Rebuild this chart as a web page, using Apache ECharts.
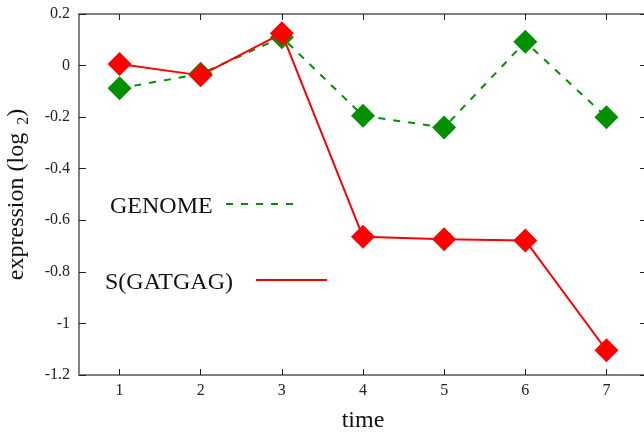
<!DOCTYPE html>
<html>
<head>
<meta charset="utf-8">
<script src="https://cdn.jsdelivr.net/npm/echarts@6/dist/echarts.min.js"></script>
<style>html,body{margin:0;padding:0;background:#fff}#c{width:644px;height:432px}</style>
</head>
<body>
<div id="c"></div>
<script>
const categories = ['1', '2', '3', '4', '5', '6', '7'];
const genome = [-0.088, -0.032, 0.11, -0.195, -0.24, 0.092, -0.2];
const gatgag = [0.006, -0.038, 0.125, -0.664, -0.674, -0.678, -1.104];
const seriesNames = ['GENOME', 'S(GATGAG)'];
const yMin = -1.2, yMax = 0.2, yStep = 0.2;

const FONT = '"Liberation Serif", "Times New Roman", serif';
const GREEN = '#009000', RED = '#ff0000';
const axisGray = '#808080', tickColor = '#222';

const chart = echarts.init(document.getElementById('c'), null, {renderer: 'canvas'});
const xBase = {
  type: 'category', data: categories, boundaryGap: true,
  axisLine: {show: true, onZero: false, lineStyle: {color: axisGray, width: 2}},
  axisTick: {show: true, inside: true, alignWithLabel: true, length: 6, lineStyle: {color: tickColor, width: 1}},
  splitLine: {show: false}
};
const yBase = {
  type: 'value', min: yMin, max: yMax, interval: yStep,
  axisLine: {show: true, onZero: false, lineStyle: {color: axisGray, width: 2}},
  axisTick: {show: true, inside: true, length: 7, lineStyle: {color: tickColor, width: 1}},
  splitLine: {show: false}
};
chart.setOption({
  animation: false,
  backgroundColor: '#fff',
  grid: {left: 79, right: -3, top: 14, bottom: 57, containLabel: false, outerBoundsMode: 'none'},
  xAxis: [
    Object.assign({}, xBase, {
      position: 'bottom',
      axisLabel: {fontFamily: FONT, fontSize: 16, color: tickColor, margin: 8},
      name: 'time', nameLocation: 'middle', nameGap: 34,
      nameTextStyle: {fontFamily: FONT, fontSize: 24, color: '#111'}
    }),
    Object.assign({}, xBase, {position: 'top', axisLabel: {show: false}})
  ],
  yAxis: [
    Object.assign({}, yBase, {
      position: 'left',
      axisLabel: {fontFamily: FONT, fontSize: 16, color: tickColor, margin: 9,
        formatter: v => String(Number(v.toFixed(1)))},
      name: 'expression (log{sub|  2}{m|)}', nameLocation: 'middle', nameGap: 47, nameRotate: 90,
      nameTextStyle: {fontFamily: FONT, fontSize: 24, color: '#111', lineHeight: 30,
        rich: {
          m: {fontFamily: FONT, fontSize: 24, color: '#111', lineHeight: 30},
          sub: {fontFamily: FONT, fontSize: 16, color: '#111', lineHeight: 16, padding: [14, 0, 0, 0]}
        }}
    }),
    Object.assign({}, yBase, {position: 'right', axisLabel: {show: false}})
  ],
  series: [
    {
      name: seriesNames[0], type: 'line', data: genome, xAxisIndex: 0, yAxisIndex: 0,
      symbol: 'diamond', symbolSize: 24,
      lineStyle: {color: GREEN, width: 2, type: [7, 8]},
      itemStyle: {color: GREEN}, z: 2
    },
    {
      name: seriesNames[1], type: 'line', data: gatgag, xAxisIndex: 0, yAxisIndex: 0,
      symbol: 'diamond', symbolSize: 24,
      lineStyle: {color: RED, width: 2},
      itemStyle: {color: RED}, z: 3
    }
  ],
  graphic: [
    {type: 'text', x: 110, y: 207, style: {text: seriesNames[0], font: '24px ' + FONT, fill: '#111', textAlign: 'left', textVerticalAlign: 'middle'}},
    {type: 'line', shape: {x1: 226, y1: 204, x2: 297, y2: 204}, style: {stroke: GREEN, lineWidth: 2, lineDash: [7, 8]}},
    {type: 'text', x: 105, y: 283, style: {text: seriesNames[1], font: '24px ' + FONT, fill: '#111', textAlign: 'left', textVerticalAlign: 'middle'}},
    {type: 'line', shape: {x1: 256, y1: 280, x2: 327, y2: 280}, style: {stroke: RED, lineWidth: 2}}
  ]
});
</script>
</body>
</html>
